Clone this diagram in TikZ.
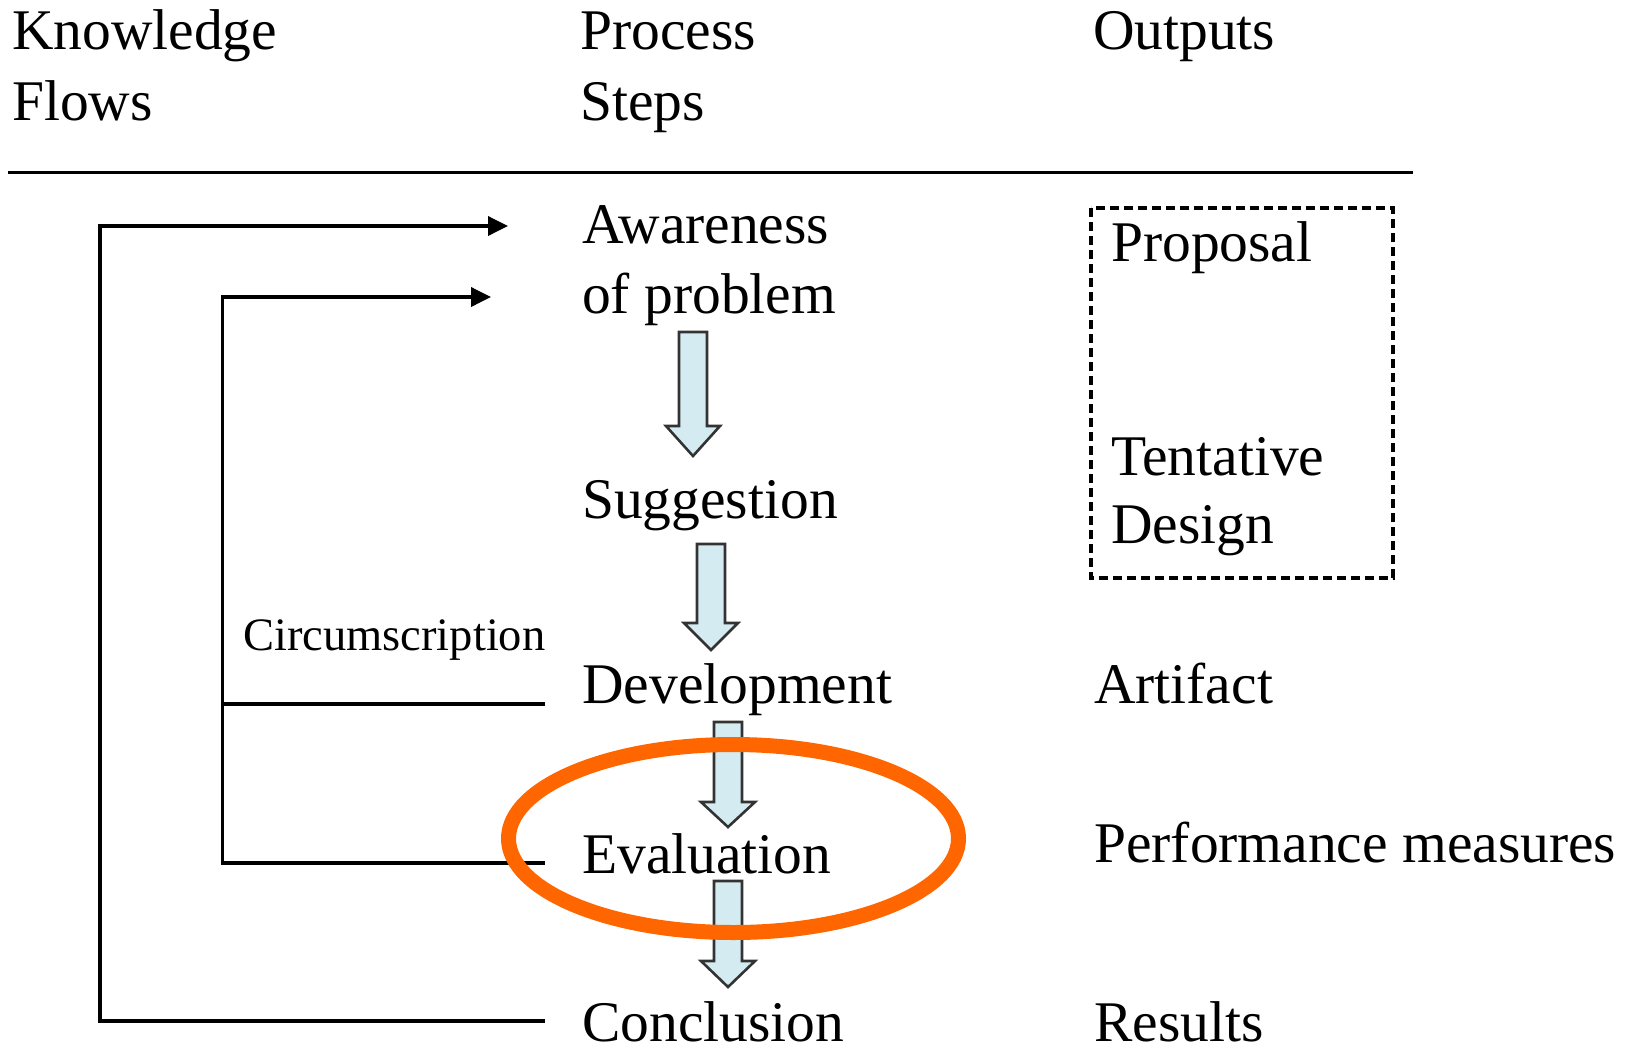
\documentclass[tikz,border=0pt]{standalone}
\usepackage{fontspec}
\setmainfont{Liberation Serif}
\usetikzlibrary{arrows.meta}

\definecolor{stepfill}{HTML}{D4ECF1}
\definecolor{stepedge}{HTML}{333333}
\definecolor{highlight}{HTML}{FF6600}

\tikzset{
  lbl/.style={anchor=base west, inner sep=0pt, font=\fontsize{57.5}{69}\selectfont},
  small/.style={anchor=base west, inner sep=0pt, font=\fontsize{46.5}{56}\selectfont},
  flow/.style={line width=3.6pt, line join=miter},
  flowarrow/.style={flow, -{Triangle[length=20pt, width=19pt]}},
  blockarrow/.style={fill=stepfill, draw=stepedge, line width=2.6pt, line join=miter},
}

% block arrow: top-centre x, shaft top y, head base y, tip y
\newcommand{\downblock}[4]{%
  \filldraw[blockarrow] (#1-14,#2) -- (#1+14,#2) -- (#1+14,#3) -- (#1+27,#3)
    -- (#1,#4) -- (#1-27,#3) -- (#1-14,#3) -- cycle;}

\begin{document}
\begin{tikzpicture}[x=1pt, y=-1pt]
  \useasboundingbox (0,0) rectangle (1639,1042);

  % column headings
  \node[lbl] (hk1) at (12,49)   {Knowledge};
  \node[lbl] (hk2) at (12,120)  {Flows};
  \node[lbl] (hp1) at (580,49)  {Process};
  \node[lbl] (hp2) at (580,120) {Steps};
  \node[lbl] (ho1) at (1093,49) {Outputs};
  \draw[line width=3.8pt] (8,172.5) coordinate (rule-l) -- (1413,172.5) coordinate (rule-r);

  % process steps
  \node[lbl] (aware1) at (582,243) {Awareness};
  \node[lbl] (aware2) at (582,313) {of problem};
  \node[lbl] (sugg)   at (582,518) {Suggestion};
  \node[lbl] (devel)  at (582,703) {Development};
  \node[lbl] (eval)   at (582,873) {Evaluation};
  \node[lbl] (concl)  at (582,1041) {Conclusion};

  % outputs
  \node[lbl] (prop)  at (1111,261) {Proposal};
  \node[lbl] (tent1) at (1111,475) {Tentative};
  \node[lbl] (tent2) at (1111,543) {Design};
  \node[lbl] (art)   at (1094,703) {Artifact};
  \node[lbl] (perf)  at (1094,862) {Performance measures};
  \node[lbl] (res)   at (1094,1041) {Results};
  \draw[line width=3.2pt, dash pattern=on 9pt off 5pt]
    (1091,208) coordinate (box-nw) rectangle (1393,578) coordinate (box-se);

  % knowledge flows
  \node[small] (circ) at (243,650) {Circumscription};
  \coordinate (in-aw1) at (508,226);
  \coordinate (in-aw2) at (491,297);
  \coordinate (out-dev) at (545,704);
  \coordinate (out-eval) at (545,863);
  \coordinate (out-concl) at (545,1021);
  \draw[flowarrow] (out-concl) -| (100,226) -- (in-aw1);
  \draw[flowarrow] (out-eval) -| (222.5,297) -- (in-aw2);
  \draw[flow] (out-dev) -- (222.5,704);

  % step-to-step block arrows
  \downblock{693}{332}{426}{456}
  \downblock{711}{544}{623}{650}
  \downblock{728}{722}{802}{827}
  \downblock{728}{881}{961}{987}

  % highlight around the evaluation step
  \draw[highlight, line width=15pt] (733.5,838.5) ellipse [x radius=225, y radius=94];
\end{tikzpicture}
\end{document}
